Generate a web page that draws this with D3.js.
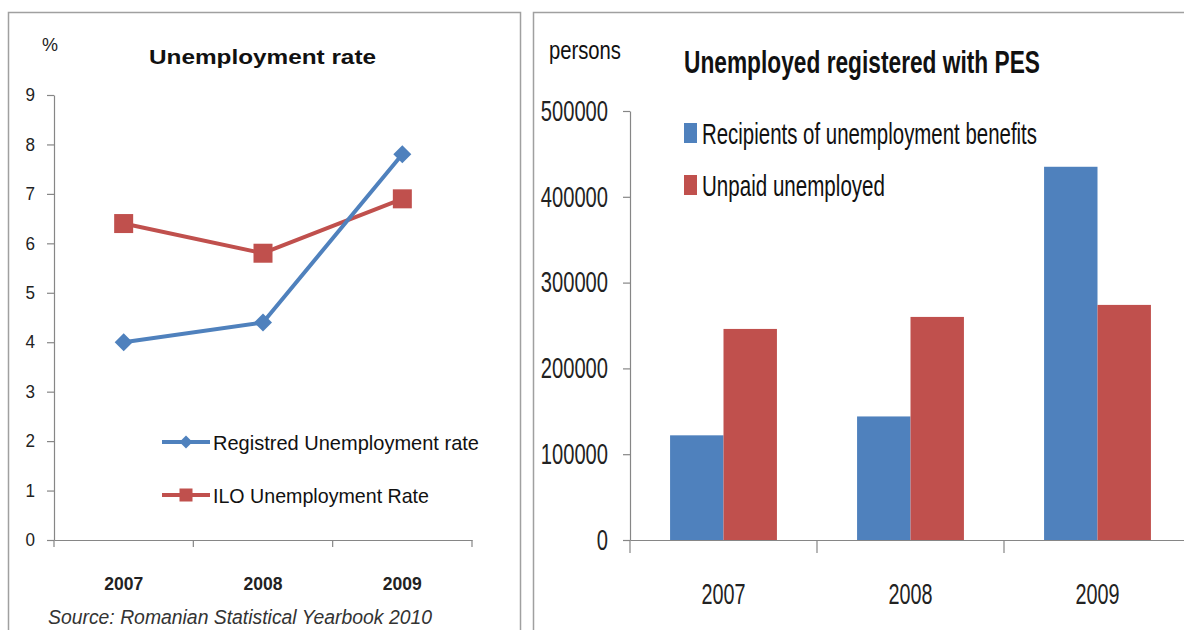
<!DOCTYPE html>
<html>
<head>
<meta charset="utf-8">
<script src="https://cdn.jsdelivr.net/npm/d3@7"></script>
<style>
  html, body { margin: 0; padding: 0; background: #fff; }
  svg { display: block; }
  text { font-family: "Liberation Sans", Arial, sans-serif; fill: #111; }
</style>
</head>
<body>
<svg id="chart" width="1184" height="630"></svg>
<script>
// Unemployment rate, Romania (%)
const years = ["2007", "2008", "2009"];
const registeredRate = [4.0, 4.4, 7.8];
const iloRate = [6.4, 5.8, 6.9];
const rateTicks = [0, 1, 2, 3, 4, 5, 6, 7, 8, 9];

// Unemployed registered with PES (persons)
const benefitRecipients = [122000, 144000, 435000];
const unpaidUnemployed = [246000, 260000, 274000];
const personTicks = [0, 100000, 200000, 300000, 400000, 500000];

const seriesNames = ["Recipients of unemployment benefits", "Unpaid unemployed"];
const blue = "#4F81BD", red = "#C0504D", axisGrey = "#868686", frameGrey = "#A0A0A0";
const narrow = "Liberation Sans Narrow, Liberation Sans, sans-serif";

const svg = d3.select("#chart");

// ---------- panel frames ----------
svg.append("rect").attr("x", 8.5).attr("y", 12.5).attr("width", 512).attr("height", 640)
  .attr("fill", "none").attr("stroke", frameGrey).attr("stroke-width", 1.5);
svg.append("rect").attr("x", 533.5).attr("y", 12.5).attr("width", 680).attr("height", 640)
  .attr("fill", "none").attr("stroke", frameGrey).attr("stroke-width", 1.5);

// ---------- left: line chart ----------
const L = svg.append("g");
const yL = d3.scaleLinear().domain([0, 9]).range([540, 95]);
const xLband = d3.scaleBand().domain(years).range([54, 472]);
const xL = d3.scalePoint().domain(years).range([54, 472]).padding(0.5);

const yAxisL = L.append("g").attr("transform", "translate(54,0)")
  .call(d3.axisLeft(yL).tickValues(rateTicks).tickFormat(d3.format("d"))
    .tickSize(7).tickSizeOuter(0).tickPadding(12));
yAxisL.selectAll("path,line").attr("stroke", axisGrey).attr("stroke-width", 1.2);
yAxisL.selectAll("text").attr("font-size", 18).style("fill", "#222")
  .attr("textLength", 9.5).attr("lengthAdjust", "spacingAndGlyphs");

const xAxisL = L.append("g").attr("transform", "translate(0,540)")
  .call(d3.axisBottom(xLband).tickSize(0).tickSizeOuter(0).tickPadding(37));
xAxisL.select("path").attr("stroke", axisGrey).attr("stroke-width", 1.2);
xAxisL.selectAll("text").attr("font-size", 18).attr("font-weight", "bold").style("fill", "#222")
  .attr("textLength", 39).attr("lengthAdjust", "spacingAndGlyphs");
// category boundary ticks
const edgesL = years.map(d => xLband(d)).concat([xLband.range()[1]]);
L.selectAll("line.edge").data(edgesL).join("line").attr("class", "edge")
  .attr("x1", d => d).attr("x2", d => d).attr("y1", 540).attr("y2", 547)
  .attr("stroke", axisGrey).attr("stroke-width", 1.2);

const lineGen = d3.line().x((d, i) => xL(years[i])).y(d => yL(d));
const diamond = r => `M0,${-r}L${r},0L0,${r}L${-r},0Z`;

L.append("path").datum(iloRate).attr("d", lineGen)
  .attr("fill", "none").attr("stroke", red).attr("stroke-width", 4).attr("stroke-linejoin", "round");
L.append("path").datum(registeredRate).attr("d", lineGen)
  .attr("fill", "none").attr("stroke", blue).attr("stroke-width", 4).attr("stroke-linejoin", "round");

L.selectAll("rect.ilo").data(iloRate).join("rect").attr("class", "ilo")
  .attr("x", (d, i) => xL(years[i]) - 9.5).attr("y", d => yL(d) - 9.5)
  .attr("width", 19).attr("height", 19).attr("fill", red);
L.selectAll("path.reg").data(registeredRate).join("path").attr("class", "reg")
  .attr("transform", (d, i) => `translate(${xL(years[i])},${yL(d)})`)
  .attr("d", diamond(9)).attr("fill", blue);

L.append("text").attr("x", 50).attr("y", 51).attr("text-anchor", "middle")
  .attr("font-size", 18).style("fill", "#222").text("%");
L.append("text").attr("x", 149).attr("y", 64).attr("font-size", 21).attr("font-weight", "bold")
  .attr("textLength", 227).attr("lengthAdjust", "spacingAndGlyphs").text("Unemployment  rate");

// legend
const legL = [
  { name: "Registred Unemployment rate", color: blue, y: 442, w: 266, mark: "diamond" },
  { name: "ILO Unemployment Rate", color: red, y: 495, w: 216, mark: "square" }
];
legL.forEach(e => {
  L.append("line").attr("x1", 162).attr("x2", 210).attr("y1", e.y).attr("y2", e.y)
    .attr("stroke", e.color).attr("stroke-width", 4);
  if (e.mark === "diamond") {
    L.append("path").attr("transform", `translate(186,${e.y})`).attr("d", diamond(6.5)).attr("fill", e.color);
  } else {
    L.append("rect").attr("x", 179.5).attr("y", e.y - 6.5).attr("width", 13).attr("height", 13).attr("fill", e.color);
  }
  L.append("text").attr("x", 213).attr("y", e.y + 8).attr("font-size", 21)
    .attr("textLength", e.w).attr("lengthAdjust", "spacingAndGlyphs").text(e.name);
});

L.append("text").attr("x", 48).attr("y", 624).attr("font-size", 20).attr("font-style", "italic")
  .attr("textLength", 384).attr("lengthAdjust", "spacingAndGlyphs").style("fill", "#333")
  .text("Source: Romanian Statistical Yearbook 2010");

// ---------- right: grouped bar chart ----------
const R = svg.append("g");
const yR = d3.scaleLinear().domain([0, 500000]).range([540, 111]);
const xR = d3.scaleBand().domain(years).range([630, 1191]);
const xS = d3.scaleBand().domain(seriesNames).range([0, xR.bandwidth()]).paddingOuter(0.75);

const yAxisR = R.append("g").attr("transform", "translate(630,0)")
  .call(d3.axisLeft(yR).tickValues(personTicks).tickFormat(d3.format("d"))
    .tickSize(7).tickSizeOuter(0).tickPadding(15));
yAxisR.selectAll("path,line").attr("stroke", axisGrey).attr("stroke-width", 1.2);
yAxisR.selectAll("text").attr("font-size", 29).attr("font-family", narrow).style("fill", "#222")
  .each(function (d) {
    const n = String(d).length;
    d3.select(this).attr("textLength", n * 11.2).attr("lengthAdjust", "spacingAndGlyphs");
  });

const rows = years.map((y, i) => ({ year: y, values: [benefitRecipients[i], unpaidUnemployed[i]] }));
const groups = R.selectAll("g.grp").data(rows).join("g").attr("class", "grp")
  .attr("transform", d => `translate(${xR(d.year)},0)`);
groups.selectAll("rect").data(d => d.values.map((v, k) => ({ v, k }))).join("rect")
  .attr("x", d => xS(seriesNames[d.k])).attr("width", xS.bandwidth())
  .attr("y", d => yR(d.v)).attr("height", d => yR(0) - yR(d.v))
  .attr("fill", d => d.k === 0 ? blue : red);

const xAxisR = R.append("g").attr("transform", "translate(0,540)")
  .call(d3.axisBottom(xR).tickSize(0).tickSizeOuter(0).tickPadding(43));
xAxisR.select("path").attr("stroke", axisGrey).attr("stroke-width", 1.2);
xAxisR.selectAll("text").attr("font-size", 29).attr("font-family", narrow).style("fill", "#222")
  .attr("textLength", 44).attr("lengthAdjust", "spacingAndGlyphs");
const edgesR = years.map(d => xR(d)).concat([xR.range()[1]]);
R.selectAll("line.edge").data(edgesR).join("line").attr("class", "edge")
  .attr("x1", d => d).attr("x2", d => d).attr("y1", 540).attr("y2", 553)
  .attr("stroke", axisGrey).attr("stroke-width", 1.2);

R.append("text").attr("x", 549).attr("y", 59).attr("font-size", 25).attr("font-family", narrow)
  .attr("textLength", 72).attr("lengthAdjust", "spacingAndGlyphs").text("persons");
R.append("text").attr("x", 684).attr("y", 73).attr("font-size", 31).attr("font-weight", "bold")
  .attr("font-family", narrow).attr("textLength", 356).attr("lengthAdjust", "spacingAndGlyphs")
  .text("Unemployed registered with PES");

const legR = [
  { name: seriesNames[0], color: blue, y: 133, w: 335 },
  { name: seriesNames[1], color: red, y: 185, w: 183 }
];
legR.forEach(e => {
  R.append("rect").attr("x", 684).attr("y", e.y - 10).attr("width", 13).attr("height", 20).attr("fill", e.color);
  R.append("text").attr("x", 702).attr("y", e.y + 11).attr("font-size", 29).attr("font-family", narrow)
    .attr("textLength", e.w).attr("lengthAdjust", "spacingAndGlyphs").text(e.name);
});
</script>
</body>
</html>
